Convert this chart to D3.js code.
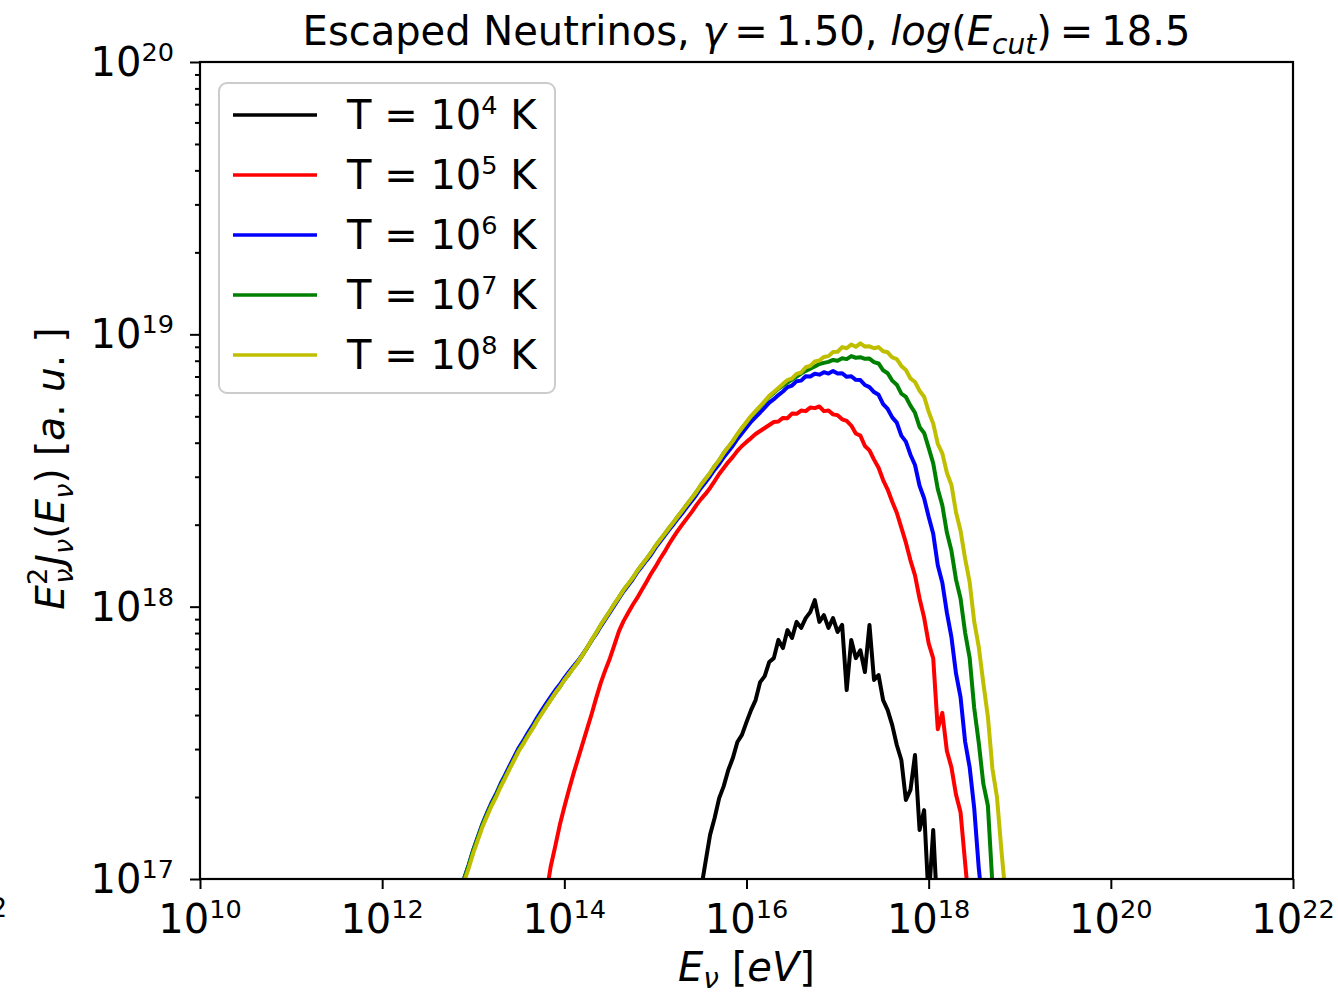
<!DOCTYPE html>
<html>
<head>
<meta charset="utf-8">
<script src="https://cdn.jsdelivr.net/npm/d3@7/dist/d3.min.js"></script>
<style>
  body { margin: 0; background: #fff; }
  svg { font-family: "DejaVu Sans", sans-serif; }
</style>
</head>
<body>
<svg id="chart" width="1338" height="995"></svg>
<script>
// log10(E) grid spacing shared by all curves
const logEStep = 0.05;

const tempExponents = ["4", "5", "6", "7", "8"];
const lineColors = ["#000000", "#ff0000", "#0000ff", "#008000", "#bfbf00"];
const startLogE = [15.50, 13.80, 12.90, 12.90, 12.90];

// log10(E^2 J), one value per grid step
const logJ_T4 = [
  16.96, 17.062, 17.162, 17.224, 17.297, 17.341, 17.40, 17.444, 17.503, 17.529,
  17.576, 17.62, 17.657, 17.723, 17.745, 17.797, 17.811, 17.878, 17.848, 17.914,
  17.885, 17.944, 17.922, 17.958, 17.98, 18.024, 17.944, 17.969, 17.922, 17.958,
  17.907, 17.933, 17.694, 17.878, 17.811, 17.84, 17.76, 17.933, 17.731, 17.749,
  17.657, 17.62, 17.565, 17.492, 17.437, 17.29, 17.327, 17.455, 17.18, 17.253,
  16.92, 17.18, 16.85
];
const logJ_T5 = [
  16.94, 17.045, 17.12, 17.198, 17.264, 17.327, 17.386, 17.441, 17.496, 17.551,
  17.606, 17.665, 17.72, 17.767, 17.81, 17.86, 17.91, 17.947, 17.977, 18.006,
  18.032, 18.061, 18.09, 18.12, 18.146, 18.175, 18.201, 18.23, 18.256, 18.281,
  18.304, 18.326, 18.348, 18.373, 18.395, 18.414, 18.436, 18.461, 18.487, 18.509,
  18.531, 18.55, 18.572, 18.59, 18.605, 18.619, 18.634, 18.645, 18.656, 18.667,
  18.678, 18.68, 18.693, 18.692, 18.709, 18.708, 18.72, 18.718, 18.731, 18.729,
  18.735, 18.718, 18.72, 18.706, 18.703, 18.688, 18.682, 18.665, 18.636, 18.628,
  18.59, 18.574, 18.54, 18.51, 18.465, 18.43, 18.385, 18.345, 18.29, 18.235,
  18.17, 18.115, 18.03, 17.96, 17.865, 17.81, 17.55, 17.61, 17.47, 17.41,
  17.31, 17.245, 17.06, 16.88
];
const logJ_T6 = [
  17.002, 17.052, 17.107, 17.155, 17.202, 17.242, 17.28, 17.312, 17.35, 17.382,
  17.416, 17.449, 17.482, 17.508, 17.537, 17.563, 17.592, 17.618, 17.644, 17.669,
  17.693, 17.714, 17.738, 17.76, 17.781, 17.801, 17.825, 17.849, 17.876, 17.90,
  17.928, 17.953, 17.979, 18.005, 18.03, 18.056, 18.078, 18.10, 18.126, 18.147,
  18.169, 18.19, 18.216, 18.238, 18.26, 18.282, 18.303, 18.325, 18.346, 18.368,
  18.389, 18.411, 18.436, 18.457, 18.479, 18.503, 18.524, 18.549, 18.570, 18.591,
  18.616, 18.637, 18.658, 18.679, 18.696, 18.713, 18.731, 18.749, 18.762, 18.777,
  18.79, 18.806, 18.812, 18.828, 18.83, 18.846, 18.845, 18.855, 18.852, 18.861,
  18.856, 18.865, 18.856, 18.857, 18.844, 18.846, 18.833, 18.832, 18.814, 18.806,
  18.788, 18.778, 18.744, 18.726, 18.695, 18.676, 18.628, 18.606, 18.558, 18.52,
  18.444, 18.398, 18.33, 18.268, 18.152, 18.088, 17.978, 17.888, 17.755, 17.668,
  17.505, 17.41, 17.26, 17.04, 16.88
];
const logJ_T7 = [
  17.00, 17.05, 17.105, 17.152, 17.198, 17.238, 17.275, 17.307, 17.344, 17.376,
  17.409, 17.441, 17.474, 17.50, 17.528, 17.554, 17.583, 17.608, 17.634, 17.659,
  17.683, 17.705, 17.731, 17.752, 17.776, 17.797, 17.822, 17.849, 17.877, 17.904,
  17.932, 17.958, 17.983, 18.01, 18.034, 18.061, 18.082, 18.105, 18.13, 18.153,
  18.174, 18.197, 18.222, 18.245, 18.266, 18.289, 18.31, 18.333, 18.354, 18.377,
  18.398, 18.421, 18.446, 18.469, 18.49, 18.516, 18.537, 18.564, 18.585, 18.607,
  18.632, 18.655, 18.676, 18.698, 18.716, 18.734, 18.752, 18.771, 18.785, 18.80,
  18.812, 18.823, 18.834, 18.845, 18.856, 18.866, 18.874, 18.882, 18.891, 18.895,
  18.899, 18.906, 18.903, 18.912, 18.909, 18.92, 18.914, 18.916, 18.91, 18.911,
  18.898, 18.893, 18.868, 18.857, 18.83, 18.815, 18.782, 18.77, 18.738, 18.712,
  18.66, 18.638, 18.583, 18.526, 18.432, 18.372, 18.272, 18.205, 18.10, 18.03,
  17.905, 17.812, 17.628, 17.50, 17.35, 17.27, 16.98, 16.85
];
const logJ_T8 = [
  16.99, 17.04, 17.095, 17.143, 17.19, 17.23, 17.268, 17.30, 17.338, 17.37,
  17.404, 17.437, 17.47, 17.496, 17.525, 17.551, 17.58, 17.606, 17.632, 17.657,
  17.683, 17.705, 17.73, 17.753, 17.775, 17.797, 17.823, 17.849, 17.878, 17.904,
  17.933, 17.958, 17.984, 18.01, 18.035, 18.061, 18.083, 18.105, 18.131, 18.153,
  18.175, 18.197, 18.223, 18.245, 18.267, 18.289, 18.311, 18.333, 18.355, 18.377,
  18.399, 18.421, 18.447, 18.469, 18.491, 18.516, 18.538, 18.564, 18.586, 18.608,
  18.634, 18.656, 18.678, 18.70, 18.718, 18.736, 18.755, 18.774, 18.788, 18.803,
  18.818, 18.832, 18.838, 18.855, 18.86, 18.879, 18.884, 18.90, 18.904, 18.917,
  18.92, 18.935, 18.936, 18.953, 18.949, 18.963, 18.954, 18.967, 18.955, 18.956,
  18.949, 18.953, 18.938, 18.934, 18.915, 18.909, 18.884, 18.869, 18.838, 18.825,
  18.793, 18.771, 18.716, 18.672, 18.598, 18.563, 18.492, 18.447, 18.347, 18.279,
  18.176, 18.09, 17.945, 17.852, 17.72, 17.596, 17.405, 17.30, 17.10, 16.92
];

const xTickExps = [10, 12, 14, 16, 18, 20, 22];
const yTickExps = [17, 18, 19, 20];

const seriesValues = [logJ_T4, logJ_T5, logJ_T6, logJ_T7, logJ_T8];

const svg = d3.select("#chart"),
    margin = {left: 200, right: 45, top: 62, bottom: 116},
    width = +svg.attr("width"),
    height = +svg.attr("height");

const x = d3.scaleLog().domain([1e10, 1e22]).range([margin.left, width - margin.right]);
const y = d3.scaleLog().domain([1e17, 1e20]).range([height - margin.bottom, margin.top]);

const series = seriesValues.map(function (vals, k) {
  return vals.map(function (v, i) {
    return {e: Math.pow(10, startLogE[k] + i * logEStep), j: Math.pow(10, v)};
  });
});

// draws a run of normal / italic / sub / sup pieces into a text element
function richText(sel, parts, size) {
  let shift = 0;
  parts.forEach(function (p) {
    const target = p.s || 0;
    const t = sel.append("tspan")
      .text(p.t)
      .attr("font-size", (p.f || 1) * size);
    if (target !== shift) t.attr("dy", target - shift);
    if (p.dx) t.attr("dx", p.dx);
    if (p.i) t.attr("font-style", "italic");
    shift = target;
  });
  return sel;
}

svg.append("defs").append("clipPath").attr("id", "plot-clip")
  .append("rect")
  .attr("x", x.range()[0]).attr("y", y.range()[1])
  .attr("width", x.range()[1] - x.range()[0])
  .attr("height", y.range()[0] - y.range()[1]);

const line = d3.line()
  .x(function (d) { return x(d.e); })
  .y(function (d) { return y(d.j); });

svg.append("g")
  .attr("clip-path", "url(#plot-clip)")
  .selectAll("path")
  .data(series)
  .enter().append("path")
  .attr("d", line)
  .attr("fill", "none")
  .attr("stroke", function (d, i) { return lineColors[i]; })
  .attr("stroke-width", 4)
  .attr("stroke-linejoin", "round");

// axes
const xAxis = svg.append("g")
  .attr("transform", "translate(0," + y.range()[0] + ")")
  .call(d3.axisBottom(x)
    .tickValues(xTickExps.map(function (e) { return Math.pow(10, e); }))
    .tickFormat("")
    .tickSize(10)
    .tickSizeOuter(0));
xAxis.select(".domain").remove();

const yMinor = [];
yTickExps.slice(0, -1).forEach(function (e) {
  for (let k = 2; k <= 9; k++) yMinor.push(k * Math.pow(10, e));
});

const yAxis = svg.append("g")
  .attr("transform", "translate(" + x.range()[0] + ",0)")
  .call(d3.axisLeft(y)
    .tickValues(yTickExps.map(function (e) { return Math.pow(10, e); }))
    .tickFormat("")
    .tickSize(10)
    .tickSizeOuter(0));
yAxis.select(".domain").remove();

svg.append("g")
  .attr("transform", "translate(" + x.range()[0] + ",0)")
  .call(d3.axisLeft(y).tickValues(yMinor).tickFormat("").tickSize(5).tickSizeOuter(0))
  .select(".domain").remove();

svg.selectAll(".tick line").attr("stroke", "#000").attr("stroke-width", 2);

svg.append("rect")
  .attr("x", x.range()[0]).attr("y", y.range()[1])
  .attr("width", x.range()[1] - x.range()[0])
  .attr("height", y.range()[0] - y.range()[1])
  .attr("fill", "none")
  .attr("stroke", "#000")
  .attr("stroke-width", 2.2);

// tick labels
xTickExps.forEach(function (e) {
  richText(svg.append("text")
    .attr("x", x(Math.pow(10, e)))
    .attr("y", 933)
    .attr("text-anchor", "middle"),
    [{t: "10"}, {t: String(e), f: 0.64, s: -15}], 40);
});

yTickExps.forEach(function (e) {
  richText(svg.append("text")
    .attr("x", 174)
    .attr("y", y(Math.pow(10, e)) + 14)
    .attr("text-anchor", "end"),
    [{t: "10"}, {t: String(e), f: 0.64, s: -15}], 40);
});

// stray label fragment at the left edge
svg.append("text")
  .attr("x", 7).attr("y", 917)
  .attr("text-anchor", "end")
  .attr("font-size", 26)
  .text("2");

// title (math parts use thin spaces like mathtext)
richText(svg.append("text")
  .attr("x", (x.range()[0] + x.range()[1]) / 2)
  .attr("y", 45)
  .attr("text-anchor", "middle"),
  [{t: "Escaped Neutrinos, "}, {t: "\u03b3", i: true}, {t: "\u2009=\u20091.50, "},
   {t: "log", i: true}, {t: "("}, {t: "E", i: true}, {t: "cut", i: true, f: 0.7, s: 9},
   {t: ")"}, {t: "\u2009=\u200918.5"}], 40);

// axis labels
richText(svg.append("text")
  .attr("x", (x.range()[0] + x.range()[1]) / 2)
  .attr("y", 981)
  .attr("text-anchor", "middle"),
  [{t: "E", i: true}, {t: "\u03bd", i: true, f: 0.7, s: 7}, {t: " [", s: 0},
   {t: "eV", i: true}, {t: "]"}], 40);

richText(svg.append("text")
  .attr("transform", "translate(64," + ((y.range()[0] + y.range()[1]) / 2 - 2) + ") rotate(-90)")
  .attr("text-anchor", "middle"),
  [{t: "E", i: true}, {t: "2", f: 0.7, s: -17}, {t: "\u03bd", i: true, f: 0.7, s: 9, dx: -16},
   {t: "J", i: true, dx: 3}, {t: "\u03bd", i: true, f: 0.7, s: 9}, {t: "("},
   {t: "E", i: true}, {t: "\u03bd", i: true, f: 0.7, s: 9}, {t: ") ["},
   {t: "a", i: true}, {t: ". "}, {t: "u", i: true}, {t: ". ]"}], 39);

// legend
const legend = svg.append("g").attr("transform", "translate(219,83)");
legend.append("rect")
  .attr("width", 336).attr("height", 310)
  .attr("rx", 8)
  .attr("fill", "#fff").attr("fill-opacity", 0.8)
  .attr("stroke", "#cccccc").attr("stroke-width", 2);

const entry = legend.selectAll(".entry")
  .data(tempExponents)
  .enter().append("g")
  .attr("class", "entry")
  .attr("transform", function (d, i) { return "translate(0," + (32 + i * 60) + ")"; });

entry.append("line")
  .attr("x1", 14).attr("x2", 98)
  .attr("stroke", function (d, i) { return lineColors[i]; })
  .attr("stroke-width", 3.6);

entry.each(function (d) {
  richText(d3.select(this).append("text").attr("x", 128).attr("y", 14),
    [{t: "T = 10"}, {t: d, f: 0.64, s: -15}, {t: " K", s: 0}], 40);
});
</script>
</body>
</html>
